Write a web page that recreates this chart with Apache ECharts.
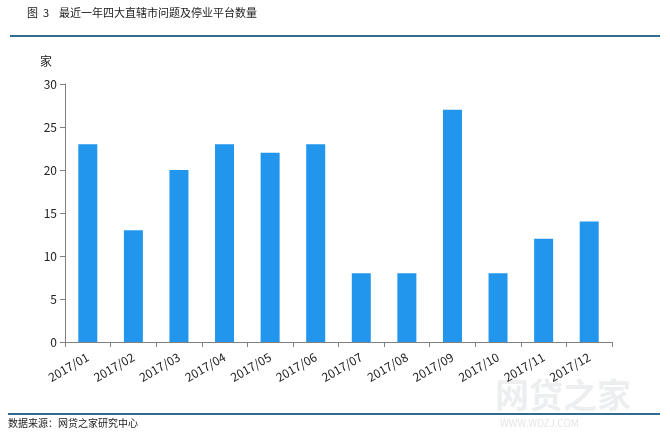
<!DOCTYPE html>
<html><head><meta charset="utf-8">
<script src="https://cdn.jsdelivr.net/npm/echarts@6/dist/echarts.min.js"></script>
<style>html,body{margin:0;padding:0;background:#fff}#c{width:670px;height:438px}</style>
</head><body><div id="c"></div>
<script>
const categories = ['2017/01','2017/02','2017/03','2017/04','2017/05','2017/06','2017/07','2017/08','2017/09','2017/10','2017/11','2017/12'];
const counts = [23,13,20,23,22,23,8,8,27,8,12,14];
const yTicks = [0,5,10,15,20,25,30];
const titleText = '图  3    最近一年四大直辖市问题及停业平台数量';
const unitText = '家';
const sourceText = '数据来源：网贷之家研究中心';

const font = '"Noto Sans CJK SC", "Microsoft YaHei", sans-serif';
const chart = echarts.init(document.getElementById('c'));
chart.setOption({
  animation: false,
  backgroundColor: '#fff',
  grid: {left: 65, right: 58, top: 84, bottom: 96},
  xAxis: {
    type: 'category', data: categories,
    axisLine: {lineStyle: {color: '#808080'}},
    axisTick: {show: true, length: 5, lineStyle: {color: '#808080'}},
    axisLabel: {rotate: 30, color: '#222', fontFamily: font, fontSize: 12, margin: 14}
  },
  yAxis: {
    type: 'value', min: yTicks[0], max: yTicks[yTicks.length-1], interval: 5,
    splitLine: {show: false},
    axisLine: {show: true, lineStyle: {color: '#808080'}},
    axisTick: {show: true, length: 5, lineStyle: {color: '#808080'}},
    axisLabel: {color: '#222', fontFamily: font, fontSize: 12, margin: 8}
  },
  series: [{
    type: 'bar', data: counts, barWidth: 19,
    itemStyle: {color: '#2196ec'}
  }],
  graphic: [
    {type: 'text', left: 27, top: 7, style: {text: titleText, font: '11px ' + font, fill: '#222'}},
    {type: 'rect', shape: {x: 10, y: 35, width: 650, height: 2}, style: {fill: '#2f6b8e'}},
    {type: 'text', left: 40, top: 55, style: {text: unitText, font: '12px ' + font, fill: '#222'}},
    {type: 'text', left: 495, top: 378, style: {text: '网贷之家', font: 'bold 34px ' + font, fill: 'rgba(200,205,210,0.35)'}},
    {type: 'text', left: 500, top: 418, style: {text: 'WWW.WDZJ.COM', font: '10px ' + font, fill: 'rgba(200,205,210,0.5)'}},
    {type: 'rect', shape: {x: 8, y: 413, width: 652, height: 2}, style: {fill: '#2f6b8e'}},
    {type: 'text', left: 8, top: 418, style: {text: sourceText, font: '10px ' + font, fill: '#222'}}
  ]
});
</script></body></html>
